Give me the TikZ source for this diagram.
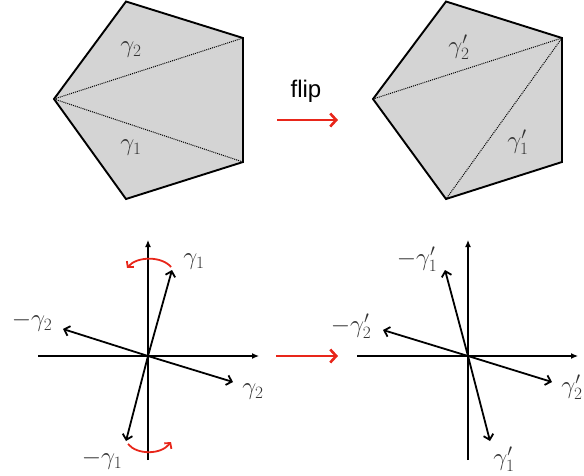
\documentclass[tikz,border=0pt]{standalone}
\usepackage{fontspec}
\newfontfamily\flipfont{Liberation Sans}
\usetikzlibrary{arrows.meta}
\definecolor{flipred}{RGB}{232,38,26}
\definecolor{pentgray}{RGB}{212,212,212}
\begin{document}
\begin{tikzpicture}[x=1pt,y=-1pt,
  lbl/.style={font=\fontsize{25}{30}\selectfont, inner sep=0pt, text=black!80},
  pent/.style={draw=black, line width=1.9pt, fill=pentgray, line join=miter},
  diag/.style={densely dotted, line width=1pt},
  axis/.style={line width=1.2pt, -{Latex[length=7pt,width=6pt]}},
  vec/.style={line width=1.8pt, -{Straight Barb[length=5pt,width=10pt]}},
  redarr/.style={flipred, line width=2.6pt, -{Straight Barb[length=6pt,width=13pt]}},
  redarc/.style={flipred, line width=1.8pt, -{Straight Barb[length=4pt,width=9pt]}},
]
\path[use as bounding box] (0,0) rectangle (584,475);

% ---------- left pentagon ----------
\coordinate (LT) at (126,1.5);
\coordinate (LRT) at (243,38);
\coordinate (LRB) at (243,162);
\coordinate (LB) at (126,199);
\coordinate (LL) at (54,99);
\draw[pent] (LT) -- (LRT) -- (LRB) -- (LB) -- (LL) -- cycle;
\draw[diag] (LL) -- (LRT);
\draw[diag] (LL) -- (LRB);
\node[lbl] (pg2) at (131,50) {$\gamma_2$};
\node[lbl] (pg1) at (131,148) {$\gamma_1$};

% ---------- right pentagon ----------
\coordinate (RT) at (446,1.5);
\coordinate (RRT) at (562,38);
\coordinate (RRB) at (562,162);
\coordinate (RB) at (446,199);
\coordinate (RL) at (373,99);
\draw[pent] (RT) -- (RRT) -- (RRB) -- (RB) -- (RL) -- cycle;
\draw[diag] (RL) -- (RRT);
\draw[diag] (RRT) -- (RB);
\node[lbl] (pg2p) at (459,47) {$\gamma_2'$};
\node[lbl] (pg1p) at (518,142) {$\gamma_1'$};

% ---------- flip arrow ----------
\node[font=\flipfont\fontsize{24}{28}\selectfont, inner sep=0pt] (flip) at (306,91) {flip};
\coordinate (fA) at (277,120);
\coordinate (fB) at (338,120);
\draw[redarr] (fA) -- (fB);

% ---------- left axes ----------
\coordinate (O1) at (148,356);
\coordinate (X1a) at (38,356);
\coordinate (X1b) at (259,356);
\coordinate (Y1a) at (148,460);
\coordinate (Y1b) at (148,240);
\draw[axis] (X1a) -- (X1b);
\draw[axis] (Y1a) -- (Y1b);
\coordinate (g1t) at (172,270);
\coordinate (mg1t) at (126,441);
\coordinate (g2t) at (233,382);
\coordinate (mg2t) at (63,329);
\draw[vec] (O1) -- (g1t);
\draw[vec] (O1) -- (mg1t);
\draw[vec] (O1) -- (g2t);
\draw[vec] (O1) -- (mg2t);
\node[lbl] (lg1) at (194,262) {$\gamma_1$};
\node[lbl] (lmg2) at (32,322) {$-\gamma_2$};
\node[lbl] (lg2) at (253,392) {$\gamma_2$};
\node[lbl] (lmg1) at (102,460) {$-\gamma_1$};
% red rotation arcs
\coordinate (a1s) at (171,267);
\coordinate (a1e) at (127,268);
\draw[redarc] (a1s) .. controls (162,256) and (137,256) .. (a1e);
\coordinate (a2s) at (128,444);
\coordinate (a2e) at (171,442);
\draw[redarc] (a2s) .. controls (137,455) and (161,455) .. (a2e);

% ---------- middle arrow ----------
\coordinate (mA) at (276,356);
\coordinate (mB) at (338,356);
\draw[redarr] (mA) -- (mB);

% ---------- right axes ----------
\coordinate (O2) at (468,356);
\coordinate (X2a) at (357,356);
\coordinate (X2b) at (578,356);
\coordinate (Y2a) at (468,460);
\coordinate (Y2b) at (468,240);
\draw[axis] (X2a) -- (X2b);
\draw[axis] (Y2a) -- (Y2b);
\coordinate (mg1p) at (445,270);
\coordinate (g1p) at (490,441);
\coordinate (mg2p) at (383,330);
\coordinate (g2p) at (552,382);
\draw[vec] (O2) -- (mg1p);
\draw[vec] (O2) -- (g1p);
\draw[vec] (O2) -- (mg2p);
\draw[vec] (O2) -- (g2p);
\node[lbl] (rmg1) at (417,259) {$-\gamma_1'$};
\node[lbl] (rmg2) at (351,326) {$-\gamma_2'$};
\node[lbl] (rg2) at (572,387) {$\gamma_2'$};
\node[lbl] (rg1) at (504,459) {$\gamma_1'$};
\end{tikzpicture}
\end{document}
